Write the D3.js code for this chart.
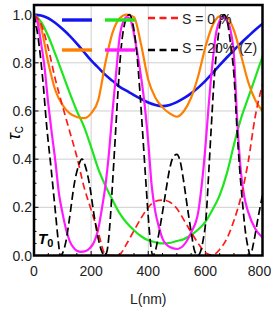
<!DOCTYPE html>
<html>
<head>
<meta charset="utf-8">
<script src="https://cdn.jsdelivr.net/npm/d3@7"></script>
<style>
  body { margin: 0; background: #fff; }
  svg { display: block; }
  .tick-label { font-family: "Liberation Sans Narrow", "Arial Narrow", "Liberation Sans", sans-serif; font-size: 14px; fill: #222; }
</style>
</head>
<body>
<svg id="chart" width="271" height="314"></svg>
<script>
// axis ticks
let xTicks = [0, 200, 400, 600, 800]
let yTicks = [0.0, 0.2, 0.4, 0.6, 0.8, 1.0]

// curves, L in nm
let L25 = [0, 25, 50, 75, 100, 125, 150, 175, 200, 225, 250, 275, 300, 325, 350, 375, 400, 425, 450, 475, 500, 525, 550, 575, 600, 625, 650, 675, 700, 725, 750, 775, 800]
let blueVals = [1, .996, .985, .965, .94, .912, .88, .845, .81, .78, .75, .725, .70, .683, .666, .65, .635, .625, .62, .625, .637, .653, .673, .697, .725, .757, .79, .822, .853, .883, .91, .937, .962]
let greenVals = [1, .97, .91, .835, .755, .675, .60, .535, .45, .36, .29, .23, .175, .135, .105, .08, .063, .055, .05, .052, .06, .068, .085, .108, .14, .19, .25, .34, .46, .57, .655, .74, .825]
let orangeVals = [1, .945, .80, .685, .625, .59, .575, .57, .59, .645, .80, .925, .985, 1.0, .99, .875, .73, .655, .615, .59, .576, .60, .655, .745, .865, .955, .993, .99, .935, .83, .72, .645, .60]
let redVals = [1, .96, .86, .73, .62, .515, .41, .285, .19, .095, .005, 0, .005, .05, .103, .155, .2, .225, .23, .222, .195, .147, .097, .05, .012, .002, .025, .07, .145, .245, .39, .58, .71]

let magentaL = [0, 12, 25, 37, 50, 62, 75, 87, 100, 112, 125, 137, 150, 165, 180, 195, 210, 225, 237, 250, 262, 275, 287, 300, 312, 325, 337, 350, 362, 375, 387, 400, 412, 425, 437, 450, 475, 500, 525, 550, 575, 587, 600, 612, 625, 637, 650, 662, 675, 687, 700, 712, 725, 737, 750, 775, 800]
let magentaVals = [1, .97, .88, .78, .63, .51, .39, .26, .175, .11, .06, .035, .02, .015, .018, .03, .055, .11, .19, .29, .42, .60, .75, .91, .97, .99, .98, .92, .84, .74, .63, .47, .29, .18, .12, .07, .035, .027, .044, .095, .18, .29, .45, .63, .80, .92, .975, .99, .975, .94, .83, .55, .34, .24, .18, .11, .075]

let blackL = [0, 15, 30, 45, 60, 75, 85, 92, 100, 112, 125, 140, 155, 168, 180, 195, 210, 225, 238, 248, 256, 265, 275, 285, 295, 305, 317, 333, 348, 360, 372, 382, 392, 402, 410, 416, 425, 437, 450, 462, 475, 488, 500, 512, 525, 537, 550, 562, 574, 584, 593, 602, 612, 620, 630, 642, 653, 665, 677, 688, 700, 711, 720, 730, 740, 750, 757, 770, 785, 800]
let blackVals = [1, .9, .74, .53, .36, .18, .06, 0, .01, .06, .16, .29, .37, .40, .37, .29, .17, .07, .015, 0, .02, .12, .3, .5, .7, .86, .96, 1.0, .95, .84, .66, .48, .3, .13, .03, 0, .02, .09, .18, .27, .36, .41, .42, .39, .3, .2, .1, .02, 0, .02, .07, .15, .35, .52, .72, .88, .97, 1.0, .97, .88, .75, .52, .36, .22, .1, .03, 0, .06, .16, .25]

let series = [
  { name: "blue", L: L25, v: blueVals, color: "#1414f0", width: 2.6, dash: null },
  { name: "green", L: L25, v: greenVals, color: "#1ee61e", width: 2.2, dash: null },
  { name: "orange", L: L25, v: orangeVals, color: "#ff8000", width: 2.2, dash: null },
  { name: "magenta", L: magentaL, v: magentaVals, color: "#ff1aff", width: 2.2, dash: null },
  { name: "red", L: L25, v: redVals, color: "#ff1a1a", width: 1.7, dash: "7,4" },
  { name: "black", L: blackL, v: blackVals, color: "#000", width: 1.7, dash: "8,4" }
]

let svg = d3.select("#chart")
let plot = { left: 34, right: 262.5, top: 5, bottom: 255.5 }

let xScale = d3.scaleLinear().domain([0, 800]).range([plot.left, plot.right])
let yScale = d3.scaleLinear().domain([0, 1.04]).range([plot.bottom, plot.top])

svg.append("clipPath").attr("id", "clip")
  .append("rect")
  .attr("x", plot.left).attr("y", plot.top)
  .attr("width", plot.right - plot.left).attr("height", plot.bottom - plot.top)

// grid
let grid = svg.append("g").attr("stroke", "#cfcfcf").attr("stroke-width", 1)
grid.selectAll(".gx").data(xTicks.slice(1, -1)).join("line")
  .attr("x1", d => xScale(d)).attr("x2", d => xScale(d))
  .attr("y1", plot.top).attr("y2", plot.bottom)
grid.selectAll(".gy").data(yTicks.slice(1, -1)).join("line")
  .attr("x1", plot.left).attr("x2", plot.right)
  .attr("y1", d => yScale(d)).attr("y2", d => yScale(d))

// inner ticks
let ticks = svg.append("g").attr("stroke", "#000").attr("stroke-width", 1)
ticks.selectAll(".tx").data(d3.range(0, 801, 50)).join("line")
  .attr("x1", d => xScale(d)).attr("x2", d => xScale(d))
  .attr("y1", plot.bottom).attr("y2", d => plot.bottom - (d % 200 === 0 ? 4.5 : 2.5))
ticks.selectAll(".ty").data(d3.range(0, 21).map(i => i * 0.05)).join("line")
  .attr("y1", d => yScale(d)).attr("y2", d => yScale(d))
  .attr("x1", plot.left).attr("x2", (d, i) => plot.left + (i % 4 === 0 ? 4.5 : 2.5))

// curves
let line = d3.line()
  .x(d => xScale(d[0]))
  .y(d => yScale(d[1]))
  .curve(d3.curveMonotoneX)

let curves = svg.append("g").attr("clip-path", "url(#clip)")
series.forEach(s => {
  curves.append("path")
    .datum(s.L.map((l, i) => [l, s.v[i]]))
    .attr("d", line)
    .attr("fill", "none")
    .attr("stroke", s.color)
    .attr("stroke-width", s.width)
    .attr("stroke-dasharray", s.dash)
})

// frame
svg.append("rect")
  .attr("x", plot.left).attr("y", plot.top)
  .attr("width", plot.right - plot.left).attr("height", plot.bottom - plot.top)
  .attr("fill", "none").attr("stroke", "#000").attr("stroke-width", 2.5)

// tick labels
svg.selectAll(".xl").data(xTicks).join("text")
  .attr("class", "tick-label")
  .attr("x", d => Math.min(xScale(d), 259.5)).attr("y", 276)
  .attr("text-anchor", "middle")
  .text(d => d)
svg.selectAll(".yl").data(yTicks).join("text")
  .attr("class", "tick-label")
  .attr("x", 32).attr("y", d => yScale(d) + 5)
  .attr("text-anchor", "end")
  .text(d => d3.format(".1f")(d))

// axis titles
svg.append("text").attr("class", "tick-label")
  .attr("x", (plot.left + plot.right) / 2).attr("y", 304)
  .attr("text-anchor", "middle")
  .text("L(nm)")

let yTitle = svg.append("text")
  .attr("transform", "translate(20,133) rotate(-90)")
  .attr("text-anchor", "middle")
  .style("font-family", "Liberation Sans, sans-serif")
yTitle.append("tspan").text("τ").style("font-size", "18px").style("font-style", "italic")
yTitle.append("tspan").text("C").attr("dy", 3).style("font-size", "10px")

let t0 = svg.append("text").attr("x", 38).attr("y", 243.5)
  .style("font-family", "Liberation Sans, sans-serif").style("font-weight", "bold").style("font-style", "italic")
t0.append("tspan").text("T").style("font-size", "15px")
t0.append("tspan").text("0").attr("dy", 3.5).style("font-size", "11px").style("font-style", "normal")

// legend
let legendItems = [
  { x: 62, y: 20, color: "#1414f0", dash: null },
  { x: 105, y: 20, color: "#1ee61e", dash: null },
  { x: 62, y: 50, color: "#ff8000", dash: null },
  { x: 105, y: 50, color: "#ff1aff", dash: null },
  { x: 148, y: 18, color: "#ff1a1a", dash: "7,4.5" },
  { x: 148, y: 50, color: "#000", dash: "7,4.5" }
]
svg.append("g").selectAll("line").data(legendItems).join("line")
  .attr("x1", d => d.x).attr("x2", d => d.x + 30)
  .attr("y1", d => d.y).attr("y2", d => d.y)
  .attr("stroke", d => d.color)
  .attr("stroke-width", d => d.dash ? 2.6 : 3.4)
  .attr("stroke-dasharray", d => d.dash)

svg.append("text").attr("class", "tick-label").attr("x", 182).attr("y", 23.5).text("S = 0 %")
svg.append("text").attr("class", "tick-label").attr("x", 182).attr("y", 53).text("S = 20% (Z)")
</script>
</body>
</html>
